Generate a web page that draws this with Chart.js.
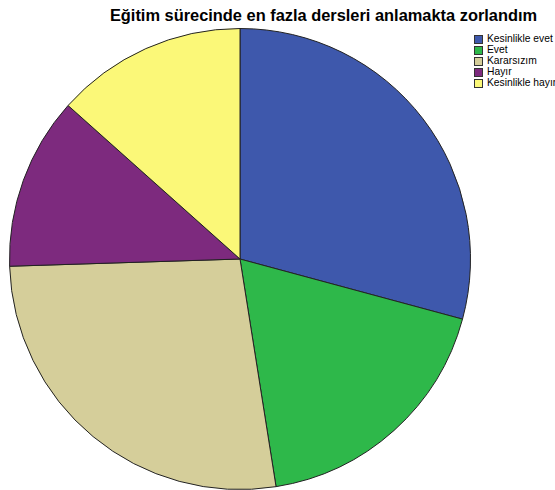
<!DOCTYPE html>
<html>
<head>
<meta charset="utf-8">
<script src="https://cdn.jsdelivr.net/npm/chart.js@4"></script>
<style>
  body { margin: 0; background: #fff; width: 555px; height: 490px; overflow: hidden; position: relative; font-family: "Liberation Sans", Arial, sans-serif; }
  #title { position: absolute; left: 0; width: 647px; top: 6px; text-align: center; font-weight: bold; font-size: 16.4px; color: #000; white-space: nowrap; }
  #wrap { position: absolute; left: 9px; top: 28px; width: 462px; height: 462px; }
  #legend { position: absolute; left: 474px; top: 34px; font-size: 10.3px; color: #000; white-space: nowrap; }
  #legend div { height: 10.9px; line-height: 10px; position: relative; padding-left: 13px; }
  #legend span { position: absolute; left: 0; top: 1px; width: 7px; height: 7px; border: 1px solid #333; }
</style>
</head>
<body>
<div id="title">Eğitim sürecinde en fazla dersleri anlamakta zorlandım</div>
<div id="wrap"><canvas id="pie"></canvas></div>
<div id="legend"></div>
<script>
// cevaplar ve yüzdeler
var labels = ['Kesinlikle evet', 'Evet', 'Kararsızım', 'Hayır', 'Kesinlikle hayır'];
var values = [29.2, 18.3, 27.0, 12.1, 13.4];
var colors = ['#3e58ac', '#2eb84a', '#d5ce9a', '#7d2a7e', '#fbf878'];

var legend = document.getElementById('legend');
labels.forEach(function (l, i) {
    var row = document.createElement('div');
    row.innerHTML = '<span style="background:' + colors[i] + '"></span>' + l;
    legend.appendChild(row);
});

new Chart(document.getElementById('pie'), {
    type: 'pie',
    data: {
        labels: labels,
        datasets: [{
            data: values,
            backgroundColor: colors,
            borderColor: '#222',
            borderWidth: 1
        }]
    },
    options: {
        responsive: true,
        maintainAspectRatio: false,
        animation: false,
        layout: { padding: 0 },
        plugins: {
            legend: { display: false },
            title: { display: false },
            tooltip: { enabled: false }
        }
    }
});
</script>
</body>
</html>
